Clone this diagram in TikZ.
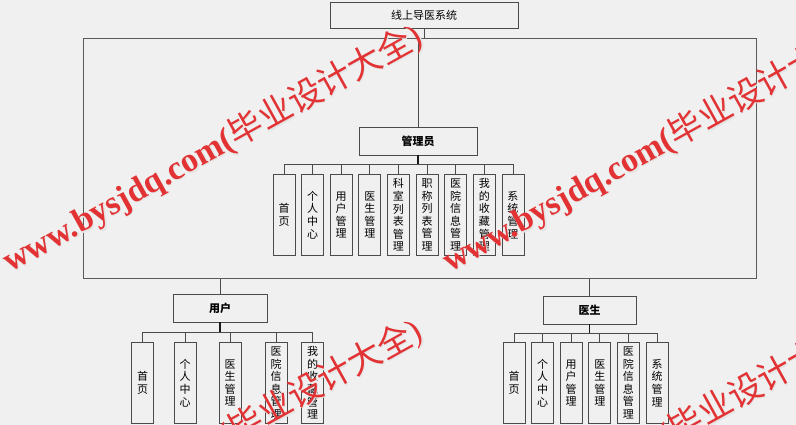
\documentclass[tikz,border=0pt]{standalone}
\usepackage{fontspec}
\newfontfamily\cjk{Noto Sans CJK SC}
\newfontfamily\wmlatin{Liberation Serif}
\definecolor{bg}{HTML}{F0F0F0}
\definecolor{edge}{HTML}{4A4A4A}
\definecolor{framec}{HTML}{5A5A5A}
\definecolor{wm}{RGB}{226,50,52}
\tikzset{
  box/.style={draw=edge, line width=0.9pt, fill=bg, inner sep=0pt,
    font=\cjk\fontsize{11}{12.6}\selectfont},
  headbox/.style={box, font=\cjk\bfseries\fontsize{11}{13}\selectfont},
  leaf/.style={box, minimum width=22pt, minimum height=81pt, align=center, anchor=north},
  conn/.style={draw=edge, line width=0.8pt},
  stem/.style={draw=black!90, line width=1.3pt},
  wmark/.style={anchor=base west, rotate=29, inner sep=0pt, text=wm,
    font=\fontsize{34}{36}\selectfont},
  wmshadow/.style={wmark, text=white!80!gray}
}
\newcommand\wmtext{{\wmlatin\bfseries www.bysjdq.com(}{\cjk 毕业设计大全}{\wmlatin )}}
\begin{document}
\begin{tikzpicture}[x=1pt,y=-1pt]
\useasboundingbox (0,0) rectangle (796,425);
\clip (0,0) rectangle (796,425);
\fill[bg] (0,0) rectangle (796,425);

% frame
\node[draw=framec, line width=0.9pt, minimum width=673pt, minimum height=240pt,
  inner sep=0pt, anchor=north west] (frame) at (83,38) {};

% title
\node[box, minimum width=188pt, minimum height=26pt] (sys) at (424,15) {线上导医系统};

% admin
\node[headbox, minimum width=118pt, minimum height=28pt] (adm) at (418,141) {管理员};
\coordinate (abus) at (418,164);
\foreach \t [count=\i from 0] in {首\\页, 个\\人\\中\\心, 用\\户\\管\\理, 医\\生\\管\\理,
  科\\室\\列\\表\\管\\理, 职\\称\\列\\表\\管\\理, 医\\院\\信\\息\\管\\理,
  我\\的\\收\\藏\\管\\理, 系\\统\\管\\理}{
  \node[leaf] (a\i) at ({284+28.62*\i},174) {\t};
  \draw[conn] (a\i.north) -- (a\i.north |- abus);
}
\draw[conn] (a0.north |- abus) -- (a8.north |- abus);
\draw[stem] (adm.south) -- (abus);

% user
\node[headbox, minimum width=94pt, minimum height=28pt] (usr) at (220,308) {用户};
\coordinate (ubus) at (220,332);
\foreach \t/\x [count=\i from 0] in {首\\页/142.5, 个\\人\\中\\心/185, 医\\生\\管\\理/230,
  医\\院\\信\\息\\管\\理/276, 我\\的\\收\\藏\\管\\理/312.5}{
  \node[leaf] (u\i) at (\x,342) {\t};
  \draw[conn] (u\i.north) -- (u\i.north |- ubus);
}
\draw[conn] (u0.north |- ubus) -- (u4.north |- ubus);
\draw[stem] (usr.south) -- (ubus);

% doctor
\node[headbox, minimum width=93pt, minimum height=28pt] (doc) at (589.5,310) {医生};
\coordinate (dbus) at (589.5,333);
\foreach \t [count=\i from 0] in {首\\页, 个\\人\\中\\心, 用\\户\\管\\理, 医\\生\\管\\理,
  医\\院\\信\\息\\管\\理, 系\\统\\管\\理}{
  \node[leaf] (d\i) at ({514+28.6*\i},342) {\t};
  \draw[conn] (d\i.north) -- (d\i.north |- dbus);
}
\draw[conn] (d0.north |- dbus) -- (d5.north |- dbus);
\draw[stem] (doc.south) -- (dbus);

% connectors to frame
\draw[conn] (sys.south) -- (sys.south |- frame.north);
\draw[conn] (frame.north -| adm.north) -- (adm.north);
\draw[conn] (frame.south -| usr.north) -- (usr.north);
\draw[conn] (frame.south -| doc.north) -- (doc.north);

% watermarks
\foreach \px/\py [count=\k] in {10/273, 450/273, 10/568, 450/568}{
  \node[wmshadow] (wms\k) at (\px+1.2,\py+1.2) {\wmtext};
  \node[wmark] (wm\k) at (\px,\py) {\wmtext};
}
\end{tikzpicture}
\end{document}
